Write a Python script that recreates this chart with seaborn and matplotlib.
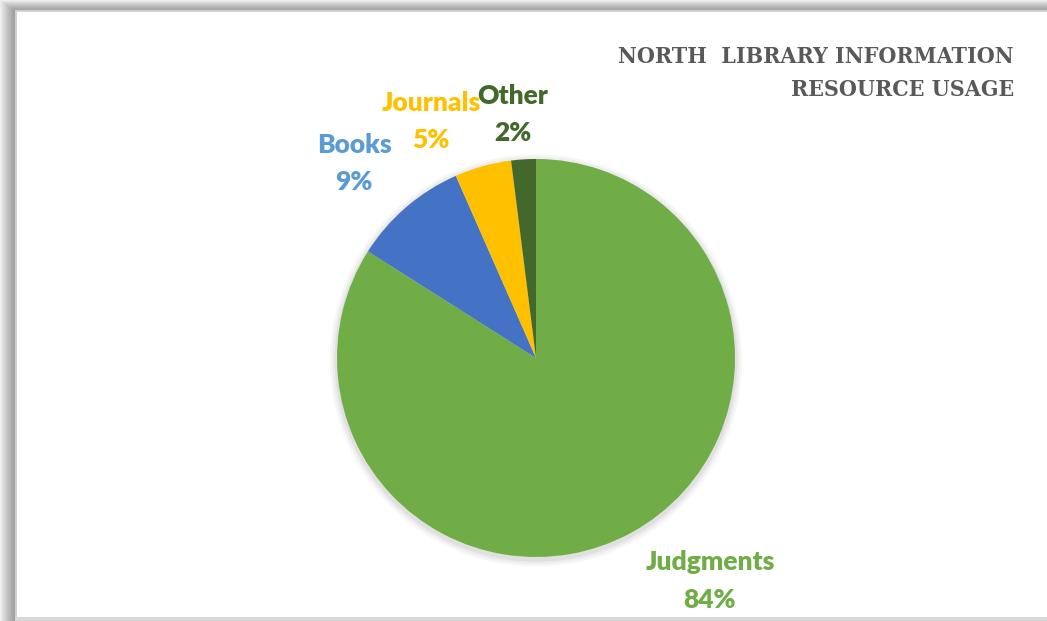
import numpy as np
import matplotlib
matplotlib.use("Agg")
import matplotlib.pyplot as plt
import seaborn as sns

# Resource usage shares (percent)
categories = ["Judgments", "Books", "Journals", "Other"]
shares = [84.0, 9.4, 4.6, 2.0]
wedge_colors = ["#70AD47", "#4472C4", "#FFC000", "#43682B"]
label_colors = ["#70AD47", "#5B9BD5", "#FFC000", "#43682B"]
title_lines = ["NORTH  LIBRARY INFORMATION", "RESOURCE USAGE"]

sns.set_theme(style="white")
plt.rcParams["font.family"] = ["Lato", "DejaVu Sans"]

W, H = 1047, 621
fig = plt.figure(figsize=(W / 100, H / 100), dpi=100)

# Soft frame shadow drawn as a background image
bg = fig.add_axes([0, 0, 1, 1], zorder=0)
yy, xx = np.mgrid[0:H, 0:W].astype(float)
left, top, bottom = 17, 12, 617
dl = np.clip((left - xx) / left, 0, 1)
dt = np.clip((top - yy) / top, 0, 1)
d = np.maximum(dl, dt)
inside = (xx >= left) & (yy >= top) & (yy < bottom)
shade = 0.60 + 0.34 * d ** 1.4
img = np.where(inside, 1.0, shade)
edge = ((xx >= left - 2) & (xx < left) & (yy >= top - 2)) | ((yy >= top - 2) & (yy < top) & (xx >= left - 2))
img = np.where(edge & ~inside, 0.82, img)
img = np.where((yy >= bottom) & (xx >= left - 2), 0.85, img)
bg.imshow(np.dstack([img] * 3), aspect="auto", interpolation="bilinear")
bg.set_axis_off()

# Pie axes: unit radius mapped to pixel geometry
cx, cy, r = 536, 358, 199
ax = fig.add_axes([0, 0, 1, 1], zorder=1)
ax.patch.set_alpha(0)

# Subtle shadow under the pie
for k, a in enumerate([0.05, 0.04, 0.03]):
    ax.add_patch(plt.Circle((0.0, -0.012), 1.0 + 0.012 * (k + 1), color="black",
                            alpha=a, lw=0, zorder=1))

wedges, _ = ax.pie(shares, colors=wedge_colors, startangle=90, counterclock=False,
                   radius=1.0, center=(0, 0), frame=True,
                   wedgeprops=dict(linewidth=0, zorder=2))
ax.set_xlim(-cx / r, (W - cx) / r)
ax.set_ylim(-(H - cy) / r, cy / r)
ax.set_axis_off()

# Data label anchors (pixel centres of the label blocks)
label_px = [(710, 581), (354, 163), (431, 121), (513, 114)]
for name, val, col, (px, py) in zip(categories, shares, label_colors, label_px):
    x = (px - cx) / r
    y = (cy - py) / r
    ax.text(x, y + 18.5 / r, name, color=col, fontsize=19, fontweight="heavy",
            ha="center", va="center", zorder=5)
    ax.text(x, y - 18.5 / r, f"{val:.0f}%", color=col, fontsize=19,
            fontweight="heavy", ha="center", va="center", zorder=5)

for i, line in enumerate(title_lines):
    fig.text(1014 / W, 1 - (57 + 33 * i) / H, line, ha="right", va="center",
             fontsize=16.6, fontweight="bold", color="#595959",
             family=["DejaVu Serif"], fontstretch="condensed")

fig.savefig("out.png", dpi=100)
